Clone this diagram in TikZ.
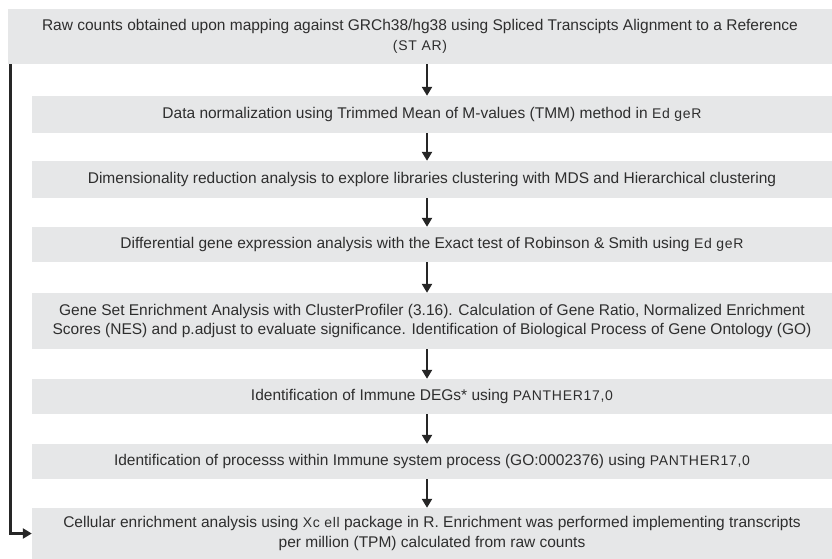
\documentclass[tikz,border=0pt]{standalone}
\usepackage{fontspec}
\setmainfont{Liberation Sans}
\usetikzlibrary{arrows.meta}
\definecolor{boxgray}{HTML}{E6E7E8}
\definecolor{txtgray}{HTML}{2E2E2E}
\newcommand{\sw}[1]{{\addfontfeature{LetterSpace=5}\fontsize{14}{19.5}\selectfont #1}}
\begin{document}
\begin{tikzpicture}[x=1pt,y=-1pt]
\tikzset{stepbox/.style={fill=boxgray,text=txtgray,inner sep=0pt,align=center,
  font=\fontsize{15.5}{19.5}\selectfont}}
\tikzset{flow/.style={line width=2.3pt,draw=black!85,-{Triangle[width=10pt,length=9pt]}}}
\useasboundingbox (0,0) rectangle (832,559);
%steps of the pipeline
\node[stepbox,minimum width=824pt,minimum height=55pt] (b1) at (420,36.5)
  {Raw counts obtained upon mapping against GRCh38/hg38 using Spliced Transcipts Alignment to a Reference\\\sw{(ST AR)}};
\node[stepbox,minimum width=800pt,minimum height=37pt] (b2) at (432,114.5)
  {Data normalization using Trimmed Mean of M-values (TMM) method in \sw{Ed geR}};
\node[stepbox,minimum width=800pt,minimum height=37pt] (b3) at (432,179.5)
  {Dimensionality reduction analysis to explore libraries clustering with MDS and Hierarchical clustering};
\node[stepbox,minimum width=800pt,minimum height=35pt] (b4) at (432,244.5)
  {Differential gene expression analysis with the Exact test of Robinson \& Smith using \sw{Ed geR}};
\node[stepbox,minimum width=800pt,minimum height=56pt] (b5) at (432,321)
  {Gene Set Enrichment Analysis with ClusterProfiler (3.16). Calculation of Gene Ratio, Normalized Enrichment\\
   Scores (NES) and p.adjust to evaluate significance. Identification of Biological Process of Gene Ontology (GO)};
\node[stepbox,minimum width=800pt,minimum height=35pt] (b6) at (432,396.5)
  {Identification of Immune DEGs* using \sw{PANTHER17,0}};
\node[stepbox,minimum width=800pt,minimum height=35pt] (b7) at (432,461.5)
  {Identification of processs within Immune system process (GO:0002376) using \sw{PANTHER17,0}};
\node[stepbox,minimum width=800pt,minimum height=51pt] (b8) at (432,533.5)
  {Cellular enrichment analysis using \sw{Xc ell} package in R. Enrichment was performed implementing transcripts\\
   per million (TPM) calculated from raw counts};
%arrows down the middle
\coordinate (axis) at (427,0);
\foreach \a/\b in {b1/b2,b2/b3,b3/b4,b4/b5,b5/b6,b6/b7,b7/b8}
  \draw[flow] (\a.south -| axis) -- (\b.north -| axis);
%loop back to the last step
\coordinate (back) at (10.5,0);
\draw[flow,line width=2.5pt] (b1.south -| back) |- (b8.west);
\end{tikzpicture}
\end{document}
